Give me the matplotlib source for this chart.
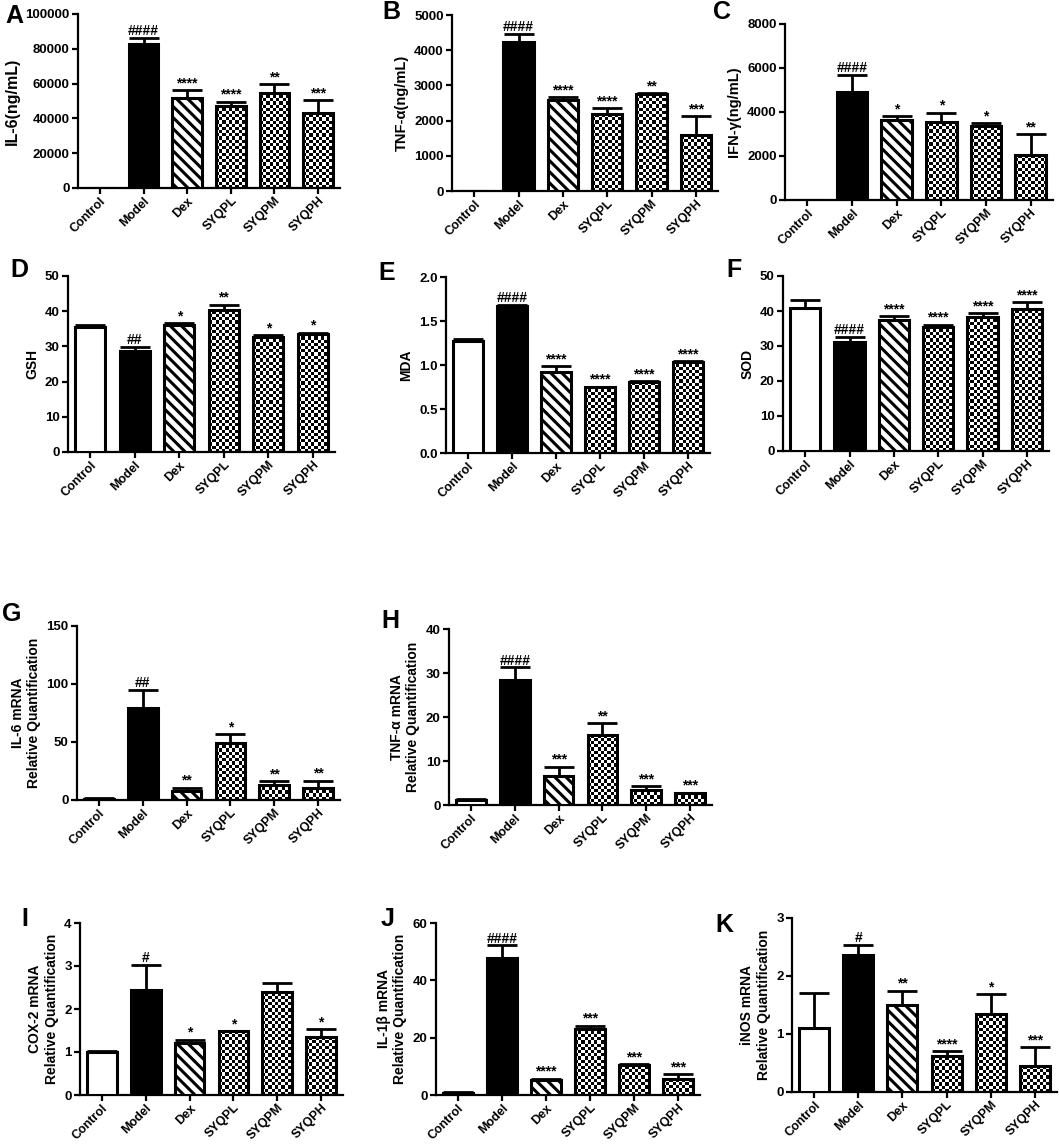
import numpy as np
import matplotlib
matplotlib.use('Agg')
from matplotlib import pyplot as plt
from matplotlib.ticker import FormatStrFormatter

groups = ['Control', 'Model', 'Dex', 'SYQPL', 'SYQPM', 'SYQPH']
styles = ['open', 'solid', 'stripe', 'check', 'check', 'check']

# cytokines in serum (A-C)
il6_mean = [0, 82600, 51600, 47400, 54500, 43000]
il6_sd = [0, 3800, 4800, 2300, 5200, 7700]
il6_marks = ['', '####', '****', '****', '**', '***']

tnf_mean = [0, 4220, 2580, 2180, 2750, 1600]
tnf_sd = [0, 240, 80, 180, 20, 520]
tnf_marks = ['', '####', '****', '****', '**', '***']

ifn_mean = [0, 4920, 3630, 3540, 3360, 2060]
ifn_sd = [0, 760, 180, 430, 150, 950]
ifn_marks = ['', '####', '*', '*', '*', '**']

# oxidative stress (D-F)
gsh_mean = [35.5, 28.6, 36.0, 40.2, 32.7, 33.4]
gsh_sd = [0.5, 1.2, 0.6, 1.7, 0.4, 0.5]
gsh_marks = ['', '##', '*', '**', '*', '*']

mda_mean = [1.277, 1.674, 0.92, 0.746, 0.803, 1.034]
mda_sd = [0.013, 0.012, 0.065, 0.008, 0.011, 0.008]
mda_marks = ['', '####', '****', '****', '****', '****']

sod_mean = [41.0, 31.2, 37.4, 35.5, 38.3, 40.7]
sod_sd = [2.1, 1.4, 1.2, 0.6, 1.2, 1.9]
sod_marks = ['', '####', '****', '****', '****', '****']

# mRNA relative quantification (G-K)
il6_mrna_mean = [1.0, 79.5, 7.7, 48.8, 12.9, 10.6]
il6_mrna_sd = [0.4, 15.7, 2.9, 7.7, 3.5, 6.0]
il6_mrna_marks = ['', '##', '**', '*', '**', '**']

tnf_mrna_mean = [1.1, 28.3, 6.5, 15.9, 3.4, 2.7]
tnf_mrna_sd = [0.3, 3.0, 2.2, 2.7, 0.9, 0.1]
tnf_mrna_marks = ['', '####', '***', '**', '***', '***']

cox2_mean = [1.0, 2.45, 1.2, 1.48, 2.39, 1.35]
cox2_sd = [0.03, 0.57, 0.09, 0.01, 0.22, 0.19]
cox2_marks = ['', '#', '*', '*', '', '*']

il1b_mean = [0.8, 47.9, 5.4, 22.9, 10.3, 5.7]
il1b_sd = [0.3, 4.3, 0.3, 1.3, 0.6, 1.7]
il1b_marks = ['', '####', '****', '***', '***', '***']

inos_mean = [1.10, 2.37, 1.50, 0.62, 1.34, 0.45]
inos_sd = [0.61, 0.17, 0.25, 0.08, 0.35, 0.32]
inos_marks = ['', '#', '**', '****', '*', '***']

plt.rcParams['font.family'] = ['Liberation Sans', 'DejaVu Sans']
plt.rcParams['font.weight'] = 'bold'
plt.rcParams['hatch.linewidth'] = 2.2

W, H = 1059, 1144
fig = plt.figure(figsize=(W / 100, H / 100), dpi=100)

BAR_W = 0.68
CELL_PX = 3.2


def checker(ax, xi, m, bar):
    """Fill a bar with a black/white checkerboard clipped to it"""
    p0 = ax.transData.transform((xi - BAR_W / 2, 0))
    p1 = ax.transData.transform((xi + BAR_W / 2, m))
    wpx, hpx = p1[0] - p0[0], p1[1] - p0[1]
    if hpx <= 0:
        return
    dx = BAR_W / wpx * CELL_PX
    dy = m / hpx * CELL_PX
    nx = int(np.ceil(wpx / CELL_PX))
    ny = int(np.ceil(hpx / CELL_PX))
    cells = np.indices((ny, nx)).sum(axis=0) % 2
    im = ax.imshow(cells, cmap='gray', interpolation='nearest', aspect='auto',
                   extent=(xi - BAR_W / 2, xi - BAR_W / 2 + nx * dx, 0, ny * dy),
                   origin='lower', zorder=2)
    im.set_clip_path(bar)


def panel(box, letter, letter_xy, means, sds, marks, ylabel, ymax, ystep,
          ylabel_size=10.5, fmt='%d'):
    l, t, r, b = box
    ax = fig.add_axes([l / W, 1 - b / H, (r - l) / W, (b - t) / H])
    x = np.arange(len(groups))
    ax.set_xlim(-0.5, len(groups) - 0.5)
    ax.set_ylim(0, ymax)

    faces = {'open': 'white', 'solid': 'black', 'stripe': 'white', 'check': 'none'}
    bars = ax.bar(x, means, BAR_W, color=[faces[s] for s in styles],
                  edgecolor='black', linewidth=2.2, zorder=3)
    for bar, s, xi, m in zip(bars, styles, x, means):
        if s == 'stripe':
            bar.set_hatch('\\\\\\')
        elif s == 'check':
            checker(ax, xi, m, bar)

    sds = np.array(sds, dtype=float)
    means = np.array(means, dtype=float)
    has = sds > 0
    ax.errorbar(x[has], means[has], yerr=[np.zeros(has.sum()), sds[has]],
                fmt='none', ecolor='black', elinewidth=2.0, capsize=11,
                capthick=2.0, zorder=4)

    for xi, m, s, mark in zip(x, means, sds, marks):
        if mark:
            ax.annotate(mark, (xi, m + s), xytext=(0, 2), textcoords='offset points',
                        ha='center', va='baseline', fontsize=10, fontweight='bold')

    ax.set_xlim(-0.5, len(groups) - 0.5)
    ax.set_ylim(0, ymax)
    ax.set_yticks(np.arange(0, ymax + ystep / 2, ystep))
    ax.yaxis.set_major_formatter(FormatStrFormatter(fmt))
    ax.set_xticks(x)
    ax.set_xticklabels(groups, rotation=45, ha='right', rotation_mode='anchor')
    for side in ['top', 'right']:
        ax.spines[side].set_visible(False)
    for side in ['left', 'bottom']:
        ax.spines[side].set_linewidth(1.6)
    ax.tick_params(axis='y', direction='out', length=4, width=1.6,
                   labelsize=9.5, pad=2)
    ax.tick_params(axis='x', direction='out', length=4, width=1.6,
                   labelsize=9, pad=1)
    for lab in ax.get_xticklabels() + ax.get_yticklabels():
        lab.set_fontweight('bold')
    ax.set_ylabel(ylabel, fontsize=ylabel_size, fontweight='bold', labelpad=4)

    fig.text(letter_xy[0] / W, 1 - letter_xy[1] / H, letter, fontsize=18,
             fontweight='bold', ha='center', va='center')
    return ax


panel((78, 14, 340, 188), 'A', (14, 16), il6_mean, il6_sd, il6_marks,
      'IL-6(ng/mL)', 100000, 20000, ylabel_size=11.5)
panel((452, 15, 718, 191), 'B', (391, 12), tnf_mean, tnf_sd, tnf_marks,
      'TNF-α(ng/mL)', 5000, 1000)
panel((785, 24, 1053, 200), 'C', (722, 12), ifn_mean, ifn_sd, ifn_marks,
      'IFN-γ(ng/mL)', 8000, 2000)

panel((68, 276, 335, 452), 'D', (19, 270), gsh_mean, gsh_sd, gsh_marks,
      'GSH', 50, 10, ylabel_size=10)
panel((446, 277, 710, 453), 'E', (387, 273), mda_mean, mda_sd, mda_marks,
      'MDA', 2.0, 0.5, ylabel_size=10, fmt='%.1f')
panel((783, 276, 1049, 451), 'F', (734, 270), sod_mean, sod_sd, sod_marks,
      'SOD', 50, 10, ylabel_size=10)

panel((77, 626, 340, 800), 'G', (12, 614), il6_mrna_mean, il6_mrna_sd, il6_mrna_marks,
      'IL-6 mRNA\nRelative Quantification', 150, 50, ylabel_size=10)
panel((449, 629, 712, 805), 'H', (390, 621), tnf_mrna_mean, tnf_mrna_sd, tnf_mrna_marks,
      'TNF-α mRNA\nRelative Quantification', 40, 10, ylabel_size=10)

panel((80, 923, 343, 1095), 'I', (25, 919), cox2_mean, cox2_sd, cox2_marks,
      'COX-2 mRNA\nRelative Quantification', 4, 1, ylabel_size=10)
panel((436, 923, 700, 1095), 'J', (388, 919), il1b_mean, il1b_sd, il1b_marks,
      'IL-1β mRNA\nRelative Quantification', 60, 20, ylabel_size=10)
panel((792, 918, 1057, 1092), 'K', (724, 925), inos_mean, inos_sd, inos_marks,
      'iNOS mRNA\nRelative Quantification', 3, 1, ylabel_size=10)

fig.savefig('out.png', dpi=100)
